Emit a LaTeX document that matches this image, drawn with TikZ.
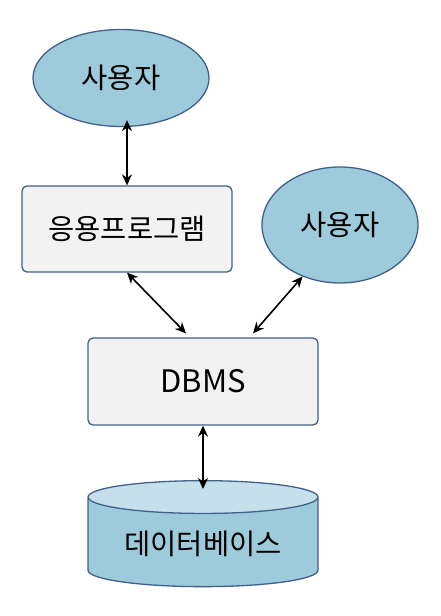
\documentclass[tikz,border=0pt]{standalone}
\usepackage{fontspec}
\setmainfont{Noto Sans CJK KR}
\usetikzlibrary{shapes.geometric, arrows.meta}

\definecolor{userblue}{HTML}{9ECBDB}
\definecolor{toplight}{HTML}{C5E0EA}
\definecolor{edgeblue}{HTML}{41618C}
\definecolor{boxgray}{HTML}{F2F2F2}

\begin{document}
\begin{tikzpicture}[x=1pt, y=-1pt, >={Stealth[length=11pt, width=10pt]},
  every user/.style={ellipse, draw=edgeblue, line width=1.3pt, fill=userblue, inner sep=0pt},
  every box/.style={rectangle, rounded corners=5pt, draw=edgeblue, line width=1.3pt, fill=boxgray},
  database/.style={cylinder, shape border rotate=90, aspect=0.2, draw=edgeblue, line width=1.3pt,
    cylinder uses custom fill, cylinder body fill=userblue, cylinder end fill=toplight,
    minimum width=230, minimum height=106},
  link/.style={<->, line width=1.6pt},
  font=\fontsize{28.5}{34}\selectfont]

\useasboundingbox (0,0) rectangle (440,616);

\foreach \m/\x/\y/\w/\h in {1/121/78/176/97, 2/340/225/156/116}
  \node [every user, minimum width=\w, minimum height=\h] (user-\m) at (\x,\y) {사용자};

\node [every box, minimum width=210, minimum height=86] (app) at (127,229) {응용프로그램};
\node [every box, minimum width=230, minimum height=87, font=\fontsize{31}{36}\selectfont] (dbms) at (203,381.5) {DBMS};
\node [database, anchor=north] (db) at (203,480) {데이터베이스};

\draw [link] ([yshift=7pt]user-1.south -| app.north) -- (app.north);
\draw [link] (app.south) -- ([xshift=-17pt, yshift=4pt]dbms.north);
\draw [link] (user-2.234) -- ([xshift=50pt, yshift=4pt]dbms.north);
\draw [link] (dbms.south) -- ([yshift=-9pt]db.north);

\end{tikzpicture}
\end{document}
